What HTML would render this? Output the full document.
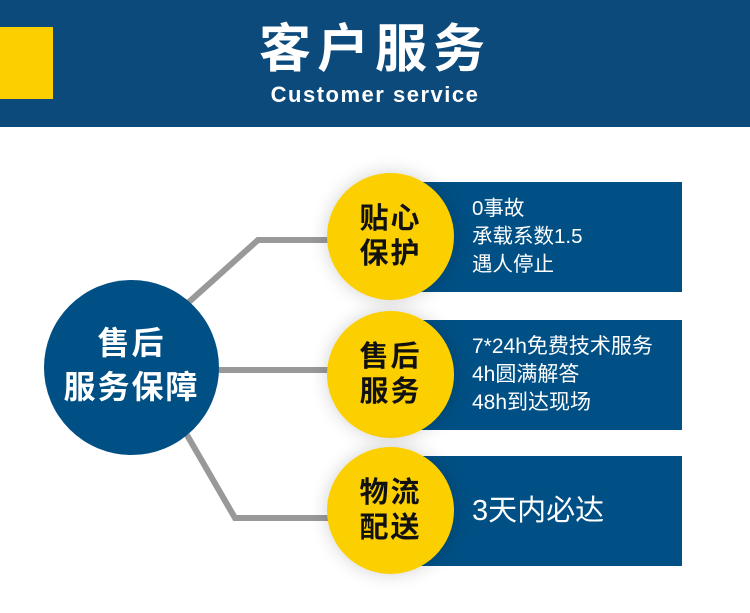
<!DOCTYPE html><html><head><meta charset="utf-8"><style>
body{margin:0;width:750px;height:613px;overflow:hidden;background:#fff;font-family:"Liberation Sans","Noto Sans CJK SC",sans-serif;position:relative}
.a{position:absolute}
.hdr{left:0;top:0;width:750px;height:127px;background:#0c4a7c}
.yc{border-radius:50%;background:#fcd000;width:127px;height:127px;box-shadow:0 0 18px rgba(0,0,0,0.18);display:flex;align-items:center;justify-content:center;text-align:center;font-weight:bold;font-size:29px;line-height:35px;color:#111;letter-spacing:2px}
.r{background:#005085;left:420px;width:262px;color:#fff;font-size:20.5px;line-height:28px;padding-left:52px;box-sizing:border-box;display:flex;flex-direction:column;justify-content:center;white-space:nowrap}
</style></head><body>
<div class="a hdr"></div>
<div class="a" style="left:0;top:27px;width:53px;height:72px;background:#fcd000"></div>
<div class="a" style="left:0;width:750px;top:19px;text-align:center;color:#fff;font-weight:bold;font-size:52px;letter-spacing:6px;line-height:62px">客户服务</div>
<div class="a" style="left:0;width:750px;top:82px;text-align:center;color:#fff;font-weight:bold;font-size:22px;letter-spacing:1.5px;line-height:26px">Customer service</div>
<svg class="a" style="left:0;top:0" width="750" height="613"><polyline points="180,310 258,240 340,240" fill="none" stroke="#999" stroke-width="6"/><line x1="200" y1="370" x2="340" y2="370" stroke="#999" stroke-width="6"/><polyline points="187,435 235,518 340,518" fill="none" stroke="#999" stroke-width="6"/></svg>
<div class="a" style="left:44px;top:280px;width:175px;height:175px;border-radius:50%;background:#005085;color:#fff;font-weight:bold;font-size:32px;line-height:44px;text-align:center;display:flex;align-items:center;justify-content:center;letter-spacing:2px"><div style="margin-top:-6px">售后<br>服务保障</div></div>
<div class="a r" style="top:182px;height:110px">0事故<br>承载系数1.5<br>遇人停止</div>
<div class="a r" style="top:320px;height:110px;font-size:21px">7*24h免费技术服务<br>4h圆满解答<br>48h到达现场</div>
<div class="a r" style="top:456px;height:110px;font-size:29px">3天内必达</div>
<div class="a yc" style="left:327px;top:173px">贴心<br>保护</div>
<div class="a yc" style="left:327px;top:311px">售后<br>服务</div>
<div class="a yc" style="left:327px;top:447px">物流<br>配送</div>
</body></html>
